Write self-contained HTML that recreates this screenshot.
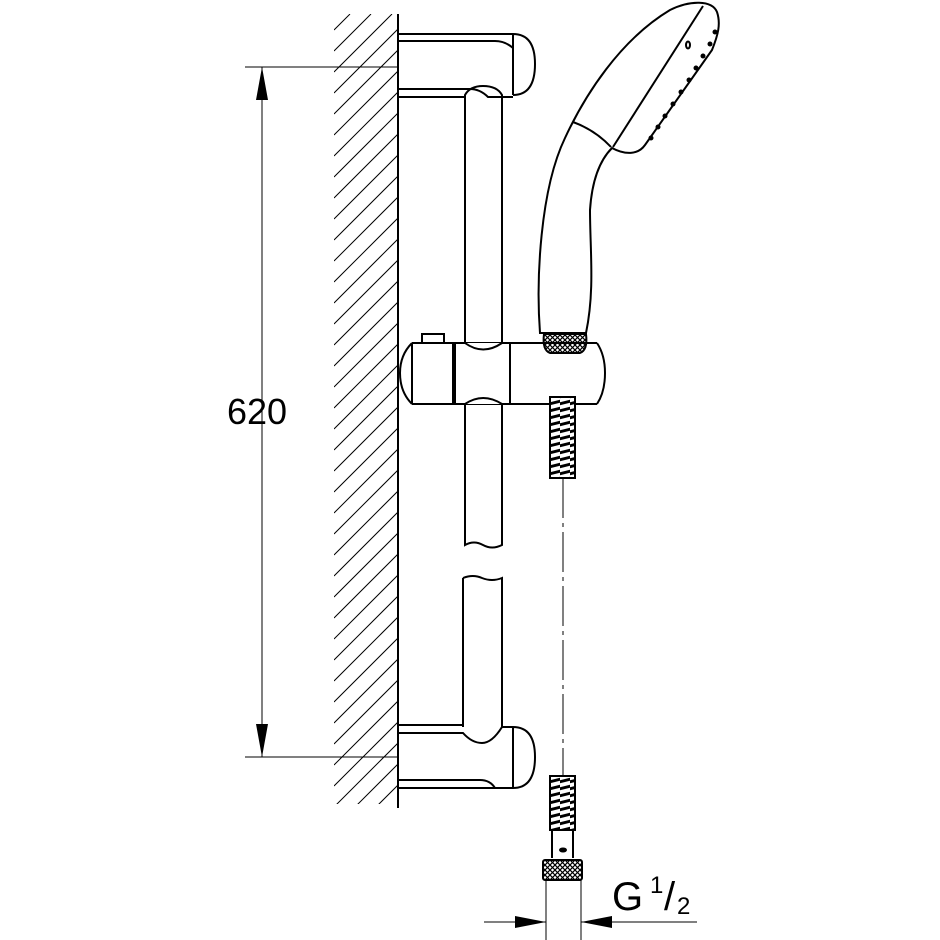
<!DOCTYPE html>
<html><head><style>html,body{margin:0;padding:0;background:#fff}svg{display:block}</style></head>
<body>
<svg width="940" height="940" viewBox="0 0 940 940" xmlns="http://www.w3.org/2000/svg" fill="none" stroke="#000" stroke-width="2">
<defs>
<clipPath id="hc"><rect x="334" y="14" width="64" height="790"/></clipPath>
<pattern id="knurl" width="5" height="5" patternUnits="userSpaceOnUse"><path d="M0 0L5 5M5 0L0 5" stroke="#000" stroke-width="1.2"/></pattern>
<pattern id="thread" width="10" height="7" patternUnits="userSpaceOnUse"><rect width="10" height="7" fill="#fff" stroke="none"/><path d="M-1 5L11 2" stroke="#000" stroke-width="3"/></pattern>
</defs>
<g clip-path="url(#hc)" stroke-width="1">
<path d="M334 30L350 14M334 51L371 14M334 72L392 14M334 93L398 29M334 114L398 50M334 135L398 71M334 156L398 92M334 177L398 113M334 198L398 134M334 219L398 155M334 240L398 176M334 261L398 197M334 282L398 218M334 303L398 239M334 324L398 260M334 345L398 281M334 366L398 302M334 387L398 323M334 408L398 344M334 429L398 365M334 450L398 386M334 471L398 407M334 492L398 428M334 513L398 449M334 534L398 470M334 555L398 491M334 576L398 512M334 597L398 533M334 618L398 554M334 639L398 575M334 660L398 596M334 681L398 617M334 702L398 638M334 723L398 659M334 744L398 680M334 765L398 701M334 786L398 722M334 807L398 743M350 812L398 764M371 812L398 785"/>
</g>
<line x1="398" y1="14" x2="398" y2="808"/>
<g stroke-width="1">
<line x1="245" y1="67" x2="398" y2="67"/>
<line x1="245" y1="757" x2="398" y2="757"/>
<line x1="262" y1="67" x2="262" y2="757"/>
</g>
<path d="M262 67L256 100L268 100Z M262 757L256 724L268 724Z" fill="#000" stroke="none"/>
<text x="257" y="424" font-family="Liberation Sans, sans-serif" font-size="36" fill="#000" stroke="none" text-anchor="middle">620</text>
<!-- top bracket -->
<path d="M398 34H513 M398 41H495 Q505 41 513 48 M398 89H470 Q480 89 488 97H513 M398 97H465 M513 34V95 M513 34Q535 34 535 64Q535 95 513 95"/>
<path d="M465 343V95 Q470 86 483 86 Q497 86 502 95V343"/>
<path d="M465 404V545 Q474 540 483 545 Q492 550 502 545V404"/>
<path d="M463 578Q473 574 482 578Q492 582 502 578V727 M463 578V727"/>
<!-- bottom bracket -->
<path d="M398 725H463 M398 733H463 Q472 743 482 743 Q492 743 502 727H513 M398 780H480 Q490 780 495 788H513 M398 788H495 M513 727V788 M513 727Q535 727 535 757Q535 788 513 788"/>
<!-- slider -->
<path d="M412 343H597 M412 404H597 M412 343Q400 355 400 373Q400 392 412 404 M597 343Q605 355 605 373Q605 392 597 404"/>
<path d="M412 343V404 M453 343V404 M455 343V404 M510 343V404" />
<path d="M465 343Q483 356 502 343 M465 404Q483 392 502 404" fill="#fff"/>
<path d="M422 343V334H444V343"/>
<path d="M544 334H586Q588 350 580 353H550Q542 350 544 334Z" fill="url(#knurl)"/>
<rect x="550" y="397" width="25" height="81" fill="url(#thread)"/>
<line x1="563" y1="478" x2="563" y2="776" stroke-width="1" stroke-dasharray="40,5,4,5"/>
<rect x="550" y="776" width="25" height="54" fill="url(#thread)"/>
<path d="M552 830V858 M573 830V858"/>
<ellipse cx="563" cy="850" rx="3" ry="1.5" fill="#000"/>
<rect x="543" y="860" width="39" height="20" rx="2" fill="url(#knurl)"/>
<g stroke-width="1">
<line x1="546" y1="880" x2="546" y2="940"/>
<line x1="581" y1="880" x2="581" y2="940"/>
<line x1="484" y1="922" x2="546" y2="922"/>
<line x1="581" y1="922" x2="697" y2="922"/>
</g>
<path d="M546 922L515 916L515 928Z M581 922L612 916L612 928Z" fill="#000" stroke="none"/>
<text x="612" y="910" font-family="Liberation Sans, sans-serif" font-size="40" fill="#000" stroke="none">G</text>
<text x="650" y="893" font-family="Liberation Sans, sans-serif" font-size="24" fill="#000" stroke="none">1</text>
<text x="664" y="910" font-family="Liberation Sans, sans-serif" font-size="40" fill="#000" stroke="none">/</text>
<text x="677" y="914" font-family="Liberation Sans, sans-serif" font-size="24" fill="#000" stroke="none">2</text>
<!-- hand shower -->
<path d="M540 333 C536 280 540 190 565 138 C585 95 620 40 670 10 C690 0 712 0 717 12 C721 24 718 35 712 50 L645 145 C638 155 625 155 612 148 C600 160 592 180 590 210 C590 250 595 290 586 333 Z"/>
<path d="M703 6 L613 147"/>
<path d="M573 122 Q595 130 611 147"/>
<ellipse cx="688" cy="45" rx="2" ry="3.5"/>
<g fill="#000" stroke="none">
<circle cx="715" cy="32" r="2.5"/><circle cx="710" cy="44" r="2.5"/><circle cx="703" cy="56" r="2.5"/><circle cx="696" cy="68" r="2.5"/><circle cx="689" cy="80" r="2.5"/><circle cx="681" cy="92" r="2.5"/><circle cx="673" cy="104" r="2.5"/><circle cx="665" cy="116" r="2.5"/><circle cx="658" cy="127" r="2.5"/><circle cx="651" cy="138" r="2.5"/>
</g>
</svg>
</body></html>
